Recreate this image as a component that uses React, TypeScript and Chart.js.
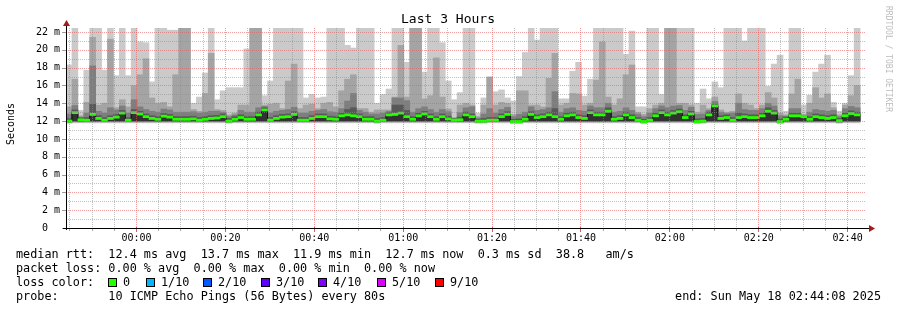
import { useEffect, useRef } from 'react';
import { Chart, registerables } from 'chart.js';

Chart.register(...registerables);

const MONO = '"DejaVu Sans Mono", "Liberation Mono", monospace';

// time axis: minutes relative to 00:00 (May 18)
const START_MIN = -(15 + 52 / 60); // 23:44:08
const END_MIN = 164 + 8 / 60; // 02:44:08
const STEP_MIN = 80 / 60; // probe step 80 s
const BIN_PHASE = 0.5; // bin centre, in steps after bin start
const Y_MAX = 22.45;
const BAND = 0.12; // half height of median band (style)

const xTickMinutes = [0, 20, 40, 60, 80, 100, 120, 140, 160];
const xTickLabels = ['00:00', '00:20', '00:40', '01:00', '01:20', '01:40', '02:00', '02:20', '02:40'];
const yTickValues = [0, 2, 4, 6, 8, 10, 12, 14, 16, 18, 20, 22];
const yTickLabels = ['0  ', '2 m', '4 m', '6 m', '8 m', '10 m', '12 m', '14 m', '16 m', '18 m', '20 m', '22 m'];

// sorted pings per 80 s bin (ms); ping10 = slowest
const ping10 = [18.3, 23, 13.2, 17.7, 23, 23, 17.7, 23, 17.1, 23,
  17.1, 23, 20.9, 20.8, 16.4, 23, 23, 22.2, 22.2, 23,
  23, 14.0, 14.7, 17.4, 23, 14.4, 15.4, 15.75, 15.75, 15.75,
  20.1, 23, 23, 14.85, 16.5, 23, 23, 23, 23, 23,
  14.6, 15.0, 14.6, 14.7, 23, 23, 23, 20.5, 20.2, 23,
  23, 23, 14.0, 15.0, 15.6, 23, 23, 18.6, 23, 23,
  17.5, 23, 23, 20.8, 16.5, 14.4, 15.2, 23, 23, 12.9,
  14.6, 17.0, 15.3, 15.5, 14.6, 14.25, 17.0, 19.7, 23, 21.1,
  23, 23, 23, 14.5, 14.5, 17.6, 18.6, 14.8, 16.7, 23,
  23, 23, 23, 23, 19.5, 22.1, 13.6, 13.6, 23, 23,
  15.0, 23, 23, 23, 23, 23, 14.0, 15.6, 14.5, 16.4,
  15.75, 23, 23, 23, 21.0, 23, 23, 23, 15.9, 18.4,
  19.4, 13.1, 23, 23, 13.8, 14.9, 17.5, 18.4, 19.4, 14.1,
  13.1, 14.0, 17.1, 23, null];

const ping9 = [13.6, 16.7, 12.6, 14.1, 21.4, 13.8, 14.0, 21.2, 13.5, 14.4,
  13.6, 16.0, 17.2, 19.0, 14.6, 14.0, 14.1, 13.6, 17.2, 23,
  23, 13.3, 13.1, 15.1, 19.6, 13.3, 13.2, 12.7, 12.9, 13.8,
  13.8, 23, 23, 13.8, 13.9, 14.0, 13.4, 16.5, 18.4, 13.4,
  13.8, 13.9, 13.4, 14.0, 14.1, 13.6, 15.4, 16.7, 17.2, 13.4,
  13.4, 13.0, 13.25, 13.25, 13.25, 14.7, 20.5, 14.7, 23, 23,
  14.5, 14.85, 19.1, 14.7, 13.35, 12.4, 13.8, 14.0, 13.8, 12.5,
  13.8, 16.9, 13.8, 14.1, 14.0, 12.75, 15.4, 15.4, 13.8, 13.8,
  13.6, 16.8, 19.6, 13.8, 14.0, 15.1, 15.05, 13.8, 14.0, 16.6,
  20.9, 14.7, 13.8, 14.5, 17.2, 18.3, 13.0, 12.75, 13.4, 13.8,
  14.0, 23, 23, 14.0, 14.0, 13.8, 13.0, 13.8, 13.4, 14.7,
  13.25, 13.0, 13.1, 15.05, 14.0, 13.8, 13.4, 13.8, 15.2, 14.6,
  12.9, 12.7, 15.05, 16.7, 12.75, 14.0, 15.75, 14.6, 15.05, 13.5,
  12.7, 13.8, 14.85, 16.0, null];

const ping8 = [12.8, 13.75, 12.45, 12.9, 18.2, 13.1, 12.9, 13.5, 13.25, 13.7,
  12.9, 14.4, 13.6, 13.3, 13.1, 13.0, 13.35, 13.25, 13.0, 13.0,
  13.0, 13.05, 12.9, 13.0, 13.1, 13.1, 13.0, 12.5, 12.7, 13.2,
  13.0, 13.0, 13.5, 13.65, 12.9, 13.1, 13.2, 13.3, 13.55, 12.9,
  12.9, 13.1, 13.2, 13.3, 13.05, 13.0, 13.4, 14.25, 15.1, 13.2,
  13.0, 12.8, 12.8, 12.9, 13.1, 14.6, 14.6, 14.3, 13.0, 13.4,
  13.6, 13.3, 13.0, 13.3, 13.05, 12.3, 12.95, 13.5, 13.6, 12.35,
  12.8, 13.4, 12.9, 13.3, 13.55, 12.5, 12.75, 13.0, 13.6, 13.2,
  13.3, 13.5, 15.3, 13.0, 13.4, 13.5, 13.2, 13.1, 13.7, 13.5,
  13.5, 14.0, 13.0, 13.1, 13.5, 13.2, 12.8, 12.5, 12.9, 13.4,
  13.7, 13.5, 13.7, 13.75, 13.2, 13.55, 12.75, 12.8, 13.2, 14.2,
  13.0, 12.85, 12.9, 14.0, 13.3, 13.2, 13.2, 13.4, 14.0, 13.7,
  12.6, 12.55, 13.4, 13.4, 12.65, 13.0, 13.3, 13.2, 13.1, 13.2,
  12.5, 13.4, 13.65, 13.5, null];

const ping7 = [12.3, 13.25, 12.35, 12.4, 13.9, 12.6, 12.4, 12.6, 12.75, 13.2,
  12.4, 13.3, 13.1, 12.8, 12.6, 12.5, 12.85, 12.75, 12.5, 12.5,
  12.5, 12.55, 12.4, 12.5, 12.6, 12.65, 12.8, 12.3, 12.5, 12.7,
  12.5, 12.5, 13.0, 13.5, 12.4, 12.6, 12.75, 12.8, 13.05, 12.4,
  12.4, 12.6, 12.8, 12.8, 12.55, 12.5, 12.9, 13.3, 13.5, 12.8,
  12.5, 12.5, 12.3, 12.4, 12.95, 13.8, 13.8, 13.2, 12.5, 12.9,
  13.1, 12.8, 12.5, 12.8, 12.55, 12.25, 12.45, 13.0, 12.8, 12.2,
  12.3, 12.4, 12.4, 12.8, 13.05, 12.2, 12.25, 12.5, 13.05, 12.7,
  12.8, 13.0, 13.4, 12.5, 12.9, 13.0, 12.7, 12.6, 13.25, 13.0,
  13.0, 13.5, 12.5, 12.6, 13.0, 12.7, 12.4, 12.2, 12.4, 12.9,
  13.25, 13.0, 13.2, 13.35, 12.7, 13.1, 12.25, 12.3, 13.0, 13.9,
  12.6, 12.7, 12.4, 12.9, 12.8, 12.7, 12.7, 12.9, 13.5, 13.2,
  12.25, 12.45, 12.9, 12.9, 12.6, 12.5, 12.8, 12.7, 12.6, 12.7,
  12.3, 12.9, 13.15, 13.0, null];

const ping6 = [12.1, 13.05, 12.25, 12.2, 12.85, 12.4, 12.2, 12.4, 12.55, 13.0,
  12.2, 13.05, 12.9, 12.6, 12.4, 12.3, 12.65, 12.55, 12.3, 12.3,
  12.3, 12.35, 12.2, 12.3, 12.4, 12.45, 12.6, 12.1, 12.3, 12.5,
  12.3, 12.3, 12.8, 13.35, 12.2, 12.4, 12.55, 12.6, 12.85, 12.2,
  12.2, 12.4, 12.6, 12.6, 12.35, 12.3, 12.7, 12.8, 12.7, 12.6,
  12.3, 12.3, 12.1, 12.2, 12.8, 12.85, 13.0, 12.6, 12.3, 12.7,
  12.9, 12.6, 12.3, 12.6, 12.35, 12.15, 12.25, 12.8, 12.6, 12.1,
  12.1, 12.2, 12.2, 12.6, 12.85, 12.05, 12.05, 12.3, 12.85, 12.5,
  12.6, 12.8, 12.6, 12.3, 12.7, 12.8, 12.5, 12.4, 13.05, 12.8,
  12.8, 13.2, 12.3, 12.4, 12.8, 12.5, 12.2, 12.05, 12.2, 12.7,
  13.05, 12.8, 13.0, 13.15, 12.5, 12.9, 12.05, 12.1, 12.8, 13.8,
  12.4, 12.5, 12.2, 12.5, 12.6, 12.5, 12.5, 12.7, 13.2, 13.0,
  12.05, 12.3, 12.7, 12.7, 12.55, 12.3, 12.6, 12.5, 12.4, 12.5,
  12.15, 12.7, 12.95, 12.8, null];

const ping5 = [11.95, 12.05, 12.05, 12.05, 12.05, 12.05, 12.05, 12.05, 12.05, 12.05,
  12.05, 12.05, 12.05, 12.05, 12.05, 12.05, 12.05, 12.05, 12.05, 12.05,
  12.05, 12.05, 12.05, 12.05, 12.05, 12.05, 12.05, 11.95, 12.05, 12.05,
  12.05, 12.05, 12.05, 12.05, 12.05, 12.05, 12.05, 12.05, 12.05, 12.05,
  12.05, 12.05, 12.05, 12.05, 12.05, 12.05, 12.05, 12.05, 12.05, 12.05,
  12.05, 12.05, 11.95, 12.05, 12.05, 12.05, 12.05, 12.05, 12.05, 12.05,
  12.05, 12.05, 12.05, 12.05, 12.05, 12.05, 12.05, 12.05, 12.05, 11.95,
  11.95, 12.05, 12.05, 12.05, 12.05, 11.9, 11.9, 12.05, 12.05, 12.05,
  12.05, 12.05, 12.05, 12.05, 12.05, 12.05, 12.05, 12.05, 12.05, 12.05,
  12.05, 12.05, 12.05, 12.05, 12.05, 12.05, 12.05, 11.9, 12.05, 12.05,
  12.05, 12.05, 12.05, 12.05, 12.05, 12.05, 11.9, 11.95, 12.05, 12.05,
  12.05, 12.05, 12.05, 12.05, 12.05, 12.05, 12.05, 12.05, 12.05, 12.05,
  11.9, 12.05, 12.05, 12.05, 12.05, 12.05, 12.05, 12.05, 12.05, 12.05,
  11.95, 12.05, 12.05, 12.05, null];

const ping4 = [11.92, 12, 12, 12, 12, 12, 12, 12, 12, 12,
  12, 12, 12, 12, 12, 12, 12, 12, 12, 12,
  12, 12, 12, 12, 12, 12, 12, 11.92, 12, 12,
  12, 12, 12, 12, 12, 12, 12, 12, 12, 12,
  12, 12, 12, 12, 12, 12, 12, 12, 12, 12,
  12, 12, 11.92, 12, 12, 12, 12, 12, 12, 12,
  12, 12, 12, 12, 12, 12, 12, 12, 12, 11.92,
  11.92, 12, 12, 12, 12, 11.87, 11.87, 12, 12, 12,
  12, 12, 12, 12, 12, 12, 12, 12, 12, 12,
  12, 12, 12, 12, 12, 12, 12, 11.87, 12, 12,
  12, 12, 12, 12, 12, 12, 11.87, 11.92, 12, 12,
  12, 12, 12, 12, 12, 12, 12, 12, 12, 12,
  11.87, 12, 12, 12, 12, 12, 12, 12, 12, 12,
  11.92, 12, 12, 12, null];

const ping3 = [11.9, 11.95, 11.95, 11.95, 11.95, 11.95, 11.95, 11.95, 11.95, 11.95,
  11.95, 11.95, 11.95, 11.95, 11.95, 11.95, 11.95, 11.95, 11.95, 11.95,
  11.95, 11.95, 11.95, 11.95, 11.95, 11.95, 11.95, 11.9, 11.95, 11.95,
  11.95, 11.95, 11.95, 11.95, 11.95, 11.95, 11.95, 11.95, 11.95, 11.95,
  11.95, 11.95, 11.95, 11.95, 11.95, 11.95, 11.95, 11.95, 11.95, 11.95,
  11.95, 11.95, 11.9, 11.95, 11.95, 11.95, 11.95, 11.95, 11.95, 11.95,
  11.95, 11.95, 11.95, 11.95, 11.95, 11.95, 11.95, 11.95, 11.95, 11.9,
  11.9, 11.95, 11.95, 11.95, 11.95, 11.85, 11.85, 11.95, 11.95, 11.95,
  11.95, 11.95, 11.95, 11.95, 11.95, 11.95, 11.95, 11.95, 11.95, 11.95,
  11.95, 11.95, 11.95, 11.95, 11.95, 11.95, 11.95, 11.85, 11.95, 11.95,
  11.95, 11.95, 11.95, 11.95, 11.95, 11.95, 11.85, 11.9, 11.95, 11.95,
  11.95, 11.95, 11.95, 11.95, 11.95, 11.95, 11.95, 11.95, 11.95, 11.95,
  11.85, 11.95, 11.95, 11.95, 11.95, 11.95, 11.95, 11.95, 11.95, 11.95,
  11.9, 11.95, 11.95, 11.95, null];

const ping2 = [11.85, 11.9, 11.9, 11.9, 11.9, 11.9, 11.9, 11.9, 11.9, 11.9,
  11.9, 11.9, 11.9, 11.9, 11.9, 11.9, 11.9, 11.9, 11.9, 11.9,
  11.9, 11.9, 11.9, 11.9, 11.9, 11.9, 11.9, 11.85, 11.9, 11.9,
  11.9, 11.9, 11.9, 11.9, 11.9, 11.9, 11.9, 11.9, 11.9, 11.9,
  11.9, 11.9, 11.9, 11.9, 11.9, 11.9, 11.9, 11.9, 11.9, 11.9,
  11.9, 11.9, 11.85, 11.9, 11.9, 11.9, 11.9, 11.9, 11.9, 11.9,
  11.9, 11.9, 11.9, 11.9, 11.9, 11.9, 11.9, 11.9, 11.9, 11.85,
  11.85, 11.9, 11.9, 11.9, 11.9, 11.8, 11.8, 11.9, 11.9, 11.9,
  11.9, 11.9, 11.9, 11.9, 11.9, 11.9, 11.9, 11.9, 11.9, 11.9,
  11.9, 11.9, 11.9, 11.9, 11.9, 11.9, 11.9, 11.8, 11.9, 11.9,
  11.9, 11.9, 11.9, 11.9, 11.9, 11.9, 11.8, 11.85, 11.9, 11.9,
  11.9, 11.9, 11.9, 11.9, 11.9, 11.9, 11.9, 11.9, 11.9, 11.9,
  11.8, 11.9, 11.9, 11.9, 11.9, 11.9, 11.9, 11.9, 11.9, 11.9,
  11.85, 11.9, 11.9, 11.9, null];

const ping1 = [11.75, 11.8, 11.8, 11.8, 11.8, 11.8, 11.8, 11.8, 11.8, 11.8,
  11.8, 11.8, 11.8, 11.8, 11.8, 11.8, 11.8, 11.8, 11.8, 11.8,
  11.8, 11.8, 11.8, 11.8, 11.8, 11.8, 11.8, 11.75, 11.8, 11.8,
  11.8, 11.8, 11.8, 11.8, 11.8, 11.8, 11.8, 11.8, 11.8, 11.8,
  11.8, 11.8, 11.8, 11.8, 11.8, 11.8, 11.8, 11.8, 11.8, 11.8,
  11.8, 11.8, 11.75, 11.8, 11.8, 11.8, 11.8, 11.8, 11.8, 11.8,
  11.8, 11.8, 11.8, 11.8, 11.8, 11.8, 11.8, 11.8, 11.8, 11.75,
  11.75, 11.8, 11.8, 11.8, 11.8, 11.7, 11.7, 11.8, 11.8, 11.8,
  11.8, 11.8, 11.8, 11.8, 11.8, 11.8, 11.8, 11.8, 11.8, 11.8,
  11.8, 11.8, 11.8, 11.8, 11.8, 11.8, 11.8, 11.7, 11.8, 11.8,
  11.8, 11.8, 11.8, 11.8, 11.8, 11.8, 11.7, 11.75, 11.8, 11.8,
  11.8, 11.8, 11.8, 11.8, 11.8, 11.8, 11.8, 11.8, 11.8, 11.8,
  11.7, 11.8, 11.8, 11.8, 11.8, 11.8, 11.8, 11.8, 11.8, 11.8,
  11.75, 11.8, 11.8, 11.8, null];

const median = [12.0, 12.95, 12.15, 12.1, 12.75, 12.3, 12.1, 12.3, 12.45, 12.9,
  12.1, 12.95, 12.8, 12.5, 12.3, 12.2, 12.55, 12.45, 12.2, 12.2,
  12.2, 12.25, 12.1, 12.2, 12.3, 12.35, 12.5, 12.0, 12.2, 12.4,
  12.2, 12.2, 12.7, 13.25, 12.1, 12.3, 12.45, 12.5, 12.75, 12.1,
  12.1, 12.3, 12.5, 12.5, 12.25, 12.2, 12.6, 12.7, 12.6, 12.5,
  12.2, 12.2, 12.0, 12.1, 12.7, 12.75, 12.9, 12.5, 12.2, 12.6,
  12.8, 12.5, 12.2, 12.5, 12.25, 12.1, 12.15, 12.7, 12.5, 12.0,
  12.0, 12.1, 12.1, 12.5, 12.75, 11.95, 11.95, 12.2, 12.75, 12.4,
  12.5, 12.7, 12.5, 12.2, 12.6, 12.7, 12.4, 12.3, 12.95, 12.7,
  12.7, 13.1, 12.2, 12.3, 12.7, 12.4, 12.1, 11.95, 12.1, 12.6,
  12.95, 12.7, 12.9, 13.05, 12.4, 12.8, 11.95, 12.0, 12.7, 13.7,
  12.3, 12.4, 12.1, 12.4, 12.5, 12.4, 12.4, 12.6, 13.1, 12.9,
  11.95, 12.2, 12.6, 12.6, 12.5, 12.2, 12.5, 12.4, 12.3, 12.4,
  12.05, 12.6, 12.85, 12.7, null];

const smokeColors = ['#cacaca', '#a4a4a4', '#7e7e7e', '#585858', '#323232'];
const lossLabels = ['0', '1/10', '2/10', '3/10', '4/10', '5/10', '9/10'];
const lossColors = ['#26ff00', '#00b8ff', '#0059ff', '#5e00ff', '#7e00ff', '#dd00ff', '#ff0000'];
const lossBoxX = [108, 146, 203, 261, 318, 377, 435];

const titleText = 'Last 3 Hours';
const unitText = 'Seconds';
const watermarkText = 'RRDTOOL / TOBI OETIKER';
const legendLines = [
  'median rtt:  12.4 ms avg  13.7 ms max  11.9 ms min  12.7 ms now  0.3 ms sd  38.8   am/s',
  'packet loss: 0.00 % avg  0.00 % max  0.00 % min  0.00 % now',
];
const lossTitle = 'loss color:';
const probeText = 'probe:       10 ICMP Echo Pings (56 Bytes) every 80s';
const endText = 'end: Sun May 18 02:44:08 2025';

const MINOR_GRID = 'rgba(140,140,140,0.55)';
const MAJOR_GRID = 'rgba(228,95,95,0.6)';
const ARROW = '#a01c1c';

const binMinutes = median.map((_, i) => START_MIN + (i + BIN_PHASE) * STEP_MIN);

function floating(lo: (number | null)[], hi: (number | null)[]) {
  return lo.map((l, i) => {
    const h = hi[i];
    return { x: binMinutes[i], y: l == null || h == null ? null : [l, h] };
  });
}

const rrdPlugin = {
  id: 'rrdDecor',
  afterDatasetsDraw(chart: any) {
    const { ctx, chartArea: a } = chart;
    const xs = chart.scales.x;
    const ys = chart.scales.y;
    ctx.save();
    ctx.lineWidth = 1;
    ctx.setLineDash([1, 1]);
    for (let v = 1; v <= 22; v++) {
      const py = Math.round(ys.getPixelForValue(v)) + 0.5;
      ctx.strokeStyle = v % 2 === 0 ? MAJOR_GRID : MINOR_GRID;
      ctx.beginPath();
      ctx.moveTo(a.left, py);
      ctx.lineTo(a.right, py);
      ctx.stroke();
    }
    for (let m = Math.ceil(START_MIN / 5) * 5; m < END_MIN; m += 5) {
      const px = Math.floor(xs.getPixelForValue(m)) + 0.5;
      ctx.strokeStyle = m % 20 === 0 ? MAJOR_GRID : MINOR_GRID;
      ctx.beginPath();
      ctx.moveTo(px, a.top);
      ctx.lineTo(px, a.bottom);
      ctx.stroke();
    }
    ctx.restore();
  },
  afterDraw(chart: any) {
    const { ctx, chartArea: a } = chart;
    const xs = chart.scales.x;
    const ys = chart.scales.y;
    ctx.save();
    ctx.setLineDash([]);
    const y0 = Math.round(ys.getPixelForValue(0));
    const x0 = Math.round(a.left);
    // tick marks
    for (let m = Math.ceil(START_MIN / 5) * 5; m < END_MIN; m += 5) {
      const px = Math.floor(xs.getPixelForValue(m));
      if (m % 20 === 0) {
        ctx.fillStyle = 'rgba(220,60,60,0.85)';
        ctx.fillRect(px, y0 - 1, 1, 5);
      } else {
        ctx.fillStyle = 'rgba(150,150,150,0.8)';
        ctx.fillRect(px, y0, 1, 3);
      }
    }
    for (const v of yTickValues) {
      const py = Math.round(ys.getPixelForValue(v));
      ctx.fillStyle = 'rgba(130,130,130,0.8)';
      ctx.fillRect(x0 - 4, py, 5, 1);
    }
    // axes
    ctx.fillStyle = '#000';
    ctx.fillRect(x0 - 3, y0, Math.round(a.right) - x0 + 6, 1);
    ctx.fillRect(x0, Math.round(a.top) - 2, 1, y0 - Math.round(a.top) + 4);
    // arrows
    ctx.fillStyle = ARROW;
    ctx.beginPath();
    ctx.moveTo(x0 + 0.5, a.top - 8);
    ctx.lineTo(x0 - 3, a.top - 2);
    ctx.lineTo(x0 + 4, a.top - 2);
    ctx.closePath();
    ctx.fill();
    ctx.beginPath();
    ctx.moveTo(a.right + 9, y0 + 0.5);
    ctx.lineTo(a.right + 3, y0 - 3);
    ctx.lineTo(a.right + 3, y0 + 4);
    ctx.closePath();
    ctx.fill();

    // title
    ctx.fillStyle = '#000';
    ctx.font = `13px ${MONO}`;
    ctx.textAlign = 'center';
    ctx.textBaseline = 'middle';
    ctx.fillText(titleText, 448, 19.5);

    // unit
    ctx.save();
    ctx.translate(11, 124);
    ctx.rotate(-Math.PI / 2);
    ctx.font = `10px ${MONO}`;
    ctx.fillText(unitText, 0, 0);
    ctx.restore();

    // watermark
    ctx.save();
    ctx.translate(888, 59);
    ctx.rotate(Math.PI / 2);
    ctx.fillStyle = '#bdbdbd';
    ctx.font = `8px ${MONO}`;
    ctx.fillText(watermarkText, 0, 0);
    ctx.restore();

    // legend
    ctx.font = `11.8px ${MONO}`;
    ctx.textAlign = 'left';
    ctx.textBaseline = 'alphabetic';
    ctx.fillStyle = '#000';
    ctx.fillText(legendLines[0], 16, 258);
    ctx.fillText(legendLines[1], 16, 272);
    ctx.fillText(lossTitle, 16, 286);
    lossLabels.forEach((lab, i) => {
      const bx = lossBoxX[i];
      ctx.fillStyle = lossColors[i];
      ctx.fillRect(bx, 278, 8, 8);
      ctx.strokeStyle = '#000';
      ctx.lineWidth = 1;
      ctx.strokeRect(bx + 0.5, 278.5, 8, 8);
      ctx.fillStyle = '#000';
      ctx.fillText(lab, bx + 15, 286);
    });
    ctx.fillText(probeText, 16, 300);
    ctx.textAlign = 'right';
    ctx.fillText(endText, 881, 300);
    ctx.restore();
  },
};

export default function App() {
  const ref = useRef<HTMLCanvasElement>(null);
  useEffect(() => {
    document.body.style.margin = '0';
    const canvas = ref.current;
    if (!canvas) return;
    const barCommon = {
      type: 'bar' as const,
      borderWidth: 0,
      grouped: false,
      barPercentage: 1,
      categoryPercentage: 1,
    };
    const lows = [ping1, ping2, ping3, ping4, ping5];
    const highs = [ping10, ping9, ping8, ping7, ping6];
    const smokeSets = smokeColors.map((c, k) => ({
      ...barCommon,
      label: `smoke${k + 1}`,
      data: floating(lows[k], highs[k]),
      backgroundColor: c,
      order: 10 - k,
    }));
    const chart = new Chart(canvas, {
      type: 'bar',
      data: {
        datasets: [
          ...smokeSets,
          {
            type: 'line',
            label: 'median step',
            data: median.map((m, i) => ({ x: binMinutes[i], y: m })),
            borderColor: '#111',
            borderWidth: 1,
            pointRadius: 0,
            stepped: 'middle',
            fill: false,
            spanGaps: false,
            order: 2,
          },
          {
            ...barCommon,
            label: 'median rtt',
            data: median.map((m, i) => ({ x: binMinutes[i], y: m == null ? null : [m - BAND, m + BAND] })),
            backgroundColor: '#26ff00',
            order: 1,
          },
        ] as any,
      },
      options: {
        responsive: false,
        animation: false,
        devicePixelRatio: 1,
        layout: { padding: { top: 28, right: 31, left: 0, bottom: 0 } },
        plugins: { legend: { display: false }, tooltip: { enabled: false }, title: { display: false } },
        scales: {
          x: {
            type: 'linear',
            min: START_MIN,
            max: END_MIN,
            offset: false,
            grid: { display: false, drawTicks: false },
            border: { display: false },
            afterBuildTicks: (s: any) => { s.ticks = xTickMinutes.map((v) => ({ value: v })); },
            ticks: {
              autoSkip: false,
              maxRotation: 0,
              minRotation: 0,
              padding: 4,
              color: '#000',
              font: { family: MONO, size: 10 },
              callback: (v: any) => {
                const i = xTickMinutes.indexOf(Math.round(Number(v)));
                return i >= 0 ? xTickLabels[i] : '';
              },
            },
            afterFit: (s: any) => { s.height = 82; },
          },
          y: {
            type: 'linear',
            min: 0,
            max: Y_MAX,
            grid: { display: false, drawTicks: false },
            border: { display: false },
            afterBuildTicks: (s: any) => { s.ticks = yTickValues.map((v) => ({ value: v })); },
            ticks: {
              padding: 6,
              color: '#000',
              font: { family: MONO, size: 10 },
              callback: (v: any) => {
                const i = yTickValues.indexOf(Math.round(Number(v)));
                return i >= 0 ? yTickLabels[i] : '';
              },
            },
            afterFit: (s: any) => { s.width = 66; },
          },
        },
      } as any,
      plugins: [rrdPlugin],
    });
    return () => chart.destroy();
  }, []);
  return (
    <div style={{ width: 897, height: 310, background: '#fff' }}>
      <canvas ref={ref} width={897} height={310} style={{ display: 'block', width: 897, height: 310 }} />
    </div>
  );
}
